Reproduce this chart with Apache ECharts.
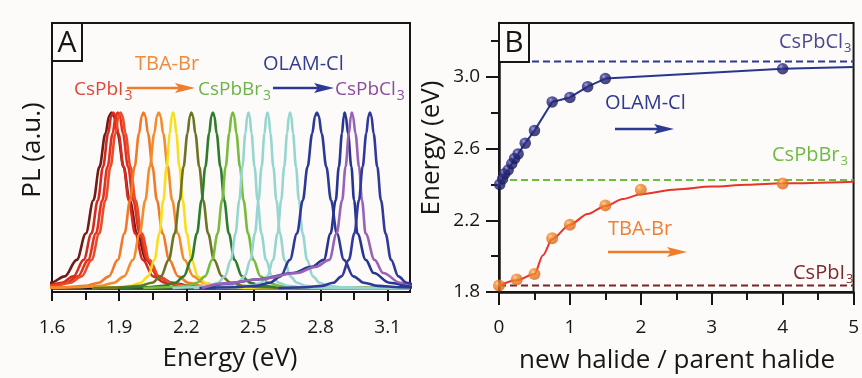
<!DOCTYPE html>
<html>
<head>
<meta charset="utf-8">
<script src="https://cdn.jsdelivr.net/npm/echarts@6/dist/echarts.min.js"></script>
<style>
  html, body { margin: 0; padding: 0; background: #fcfbf9; }
  #chart { width: 862px; height: 378px; }
</style>
</head>
<body>
<div id="chart"></div>
<script>
// ---------- Panel A: normalized PL spectra ----------
const ENERGY_MIN = 1.6;
const ENERGY_MAX = 3.2;
const ENERGY_TICKS = [1.6, 1.9, 2.2, 2.5, 2.8, 3.1];
const ENERGY_MINOR_TICKS = [1.75, 2.05, 2.35, 2.65, 2.95];

// peak energy (eV), relative width and colour of each spectrum
const PL_PEAK_EV = [1.866, 1.874, 1.894, 1.906, 2.009, 2.077, 2.141, 2.223, 2.319, 2.408,
                    2.478, 2.563, 2.664, 2.784, 2.908, 2.940, 3.021];
const PL_WIDTH   = [1.35, 1.15, 1.15, 1.12, 1.0, 1.0, 0.72, 0.88, 0.84, 0.8,
                    0.68, 0.66, 0.66, 1.05, 1.0, 1.08, 0.82];
const PL_SHAPE   = ['line', 'line', 'line', 'line', 'line', 'line', 'line', 'line', 'line', 'line',
                    'line', 'line', 'line', 'line', 'tail', 'tail', 'line'];
const PL_COLORS  = ['#6e1c14', '#d42a1f', '#e4301f', '#ee4a26', '#f07a2a', '#f28c2e', '#f8df1e',
                    '#6d7424', '#2f7c2c', '#79bb3c', '#97d6d0', '#97d6d0', '#97d6d0',
                    '#2c3a96', '#27358f', '#9a62b5', '#33399a'];

// measured line shape: offset from peak (eV) and normalized intensity
const LINE_OFFSET_EV = [-0.5, -0.35, -0.26, -0.2, -0.155, -0.115, -0.085, -0.06, -0.04, -0.02, -0.008, 0,
                        0.008, 0.02, 0.04, 0.06, 0.085, 0.115, 0.155, 0.2, 0.26, 0.35, 0.5];
const LINE_LEVEL     = [0, 0.004, 0.012, 0.03, 0.066, 0.16, 0.31, 0.5, 0.69, 0.88, 0.98, 1,
                        0.98, 0.88, 0.69, 0.5, 0.31, 0.16, 0.066, 0.03, 0.012, 0.004, 0];
// line shape with a long low-energy tail (chloride-rich samples)
const TAIL_OFFSET_EV = [-0.62, -0.53, -0.38, -0.23, -0.15, -0.093, -0.063, -0.04, -0.026, -0.012, -0.004, 0,
                        0.005, 0.015, 0.03, 0.042, 0.057, 0.094, 0.13, 0.2, 0.3, 0.45];
const TAIL_LEVEL     = [0, 0.025, 0.05, 0.085, 0.12, 0.16, 0.31, 0.5, 0.69, 0.88, 0.98, 1,
                        0.98, 0.88, 0.69, 0.5, 0.31, 0.16, 0.085, 0.03, 0.008, 0];

// ---------- Panel B: PL peak energy vs. halide ratio ----------
const TBA_RATIO = [0, 0.25, 0.5, 0.75, 1.0, 1.5, 2.0, 4.0];
const TBA_EV    = [1.836, 1.87, 1.90, 2.10, 2.175, 2.283, 2.37, 2.405];
const TBA_FIT_RATIO = [0, 0.25, 0.5, 0.62, 0.75, 1.0, 1.25, 1.5, 1.75, 2.0, 2.5, 3.0, 3.5, 4.0, 5.0];
const TBA_FIT_EV    = [1.836, 1.865, 1.90, 2.005, 2.095, 2.175, 2.235, 2.28, 2.318, 2.345, 2.372, 2.388, 2.398, 2.406, 2.415];

const OLAM_RATIO = [0.01, 0.05, 0.08, 0.13, 0.18, 0.22, 0.27, 0.37, 0.5, 0.75, 1.0, 1.25, 1.5, 4.0];
const OLAM_EV    = [2.40, 2.43, 2.46, 2.48, 2.515, 2.545, 2.57, 2.63, 2.70, 2.86, 2.885, 2.945, 2.99, 3.045];
const OLAM_LINE_RATIO = [0, 0.01, 0.05, 0.08, 0.13, 0.18, 0.22, 0.27, 0.37, 0.5, 0.75, 1.0, 1.25, 1.5, 4.0, 5.0];
const OLAM_LINE_EV    = [2.395, 2.40, 2.43, 2.46, 2.48, 2.515, 2.545, 2.57, 2.63, 2.70, 2.86, 2.885, 2.945, 2.99, 3.045, 3.055];

const EV_CSPBI3 = 1.836;
const EV_CSPBBR3 = 2.425;
const EV_CSPBCL3 = 3.086;

const RATIO_MIN = 0, RATIO_MAX = 5;
const B_EV_MIN = 1.8, B_EV_MAX = 3.3;
const B_EV_TICKS = [1.8, 2.2, 2.6, 3.0];
const B_EV_MINOR_TICKS = [2.0, 2.4, 2.8, 3.2];

// ---------- drawing ----------
const FONT = "'Open Sans', 'Noto Sans', sans-serif";
const INK = '#161616';

// spectrum i as [energy, intensity] points; red/orange spectra also run the
// baseline out to the low-energy edge, every spectrum runs it to the high-energy edge
function spectrum(i) {
  const tail = PL_SHAPE[i] === 'tail';
  const off = tail ? TAIL_OFFSET_EV : LINE_OFFSET_EV;
  const lev = tail ? TAIL_LEVEL : LINE_LEVEL;
  const pts = off.map((o, k) => [PL_PEAK_EV[i] + o * PL_WIDTH[i], lev[k]]);
  if (pts[0][0] > ENERGY_MIN && PL_PEAK_EV[i] < 2.1) pts.unshift([ENERGY_MIN, 0]);
  if (pts[pts.length - 1][0] < ENERGY_MAX) pts.push([ENERGY_MAX, 0]);
  return pts;
}
const zip = (a, b) => a.map((v, i) => [v, b[i]]);

const measure = document.createElement('canvas').getContext('2d');
function textWidth(s, size) {
  measure.font = size + 'px ' + FONT;
  return measure.measureText(s).width;
}
// chemical formula with a subscript "3"
function formula(x, yc, body, color, size, subSize) {
  const w = textWidth(body, size);
  return [
    { type: 'text', x: x, y: yc, style: { text: body, fill: color, font: size + 'px ' + FONT, verticalAlign: 'middle', align: 'left' } },
    { type: 'text', x: x + w + 1, y: yc + size * 0.32, style: { text: '3', fill: color, font: subSize + 'px ' + FONT, verticalAlign: 'middle', align: 'left' } }
  ];
}
function label(x, yc, s, color, size) {
  return { type: 'text', x: x, y: yc, style: { text: s, fill: color, font: size + 'px ' + FONT, verticalAlign: 'middle', align: 'left' } };
}
function arrow(x0, x1, y, color) {
  return [
    { type: 'line', shape: { x1: x0, y1: y, x2: x1 - 10, y2: y }, style: { stroke: color, lineWidth: 2.5 } },
    { type: 'polygon', shape: { points: [[x1 - 20, y - 5], [x1, y], [x1 - 20, y + 5], [x1 - 16, y]] }, style: { fill: color } }
  ];
}
function panelTag(x, y, w, h, s) {
  return [
    { type: 'rect', shape: { x: x, y: y, width: w, height: h }, style: { fill: '#fcfbf9', stroke: INK, lineWidth: 2 }, z: 100 },
    { type: 'text', x: x + w / 2, y: y + h / 2 + 1, z: 101, style: { text: s, fill: INK, font: '30px ' + FONT, align: 'center', verticalAlign: 'middle' } }
  ];
}
function axisTitle(x, y, s, rotate) {
  return { type: 'text', x: x, y: y, rotation: rotate ? Math.PI / 2 : 0,
           style: { text: s, fill: INK, font: '26px ' + FONT, align: 'center', verticalAlign: 'middle' } };
}

const axisLineStyle = { lineStyle: { color: INK, width: 2.5 } };
const tickLabel = { color: INK, fontSize: 19, fontFamily: FONT };

const gridA = { left: 52, top: 23, width: 358, height: 269, show: true, borderColor: INK, borderWidth: 2, backgroundColor: 'transparent' };
const gridB = { left: 499, top: 23, width: 357, height: 269, show: true, borderColor: INK, borderWidth: 2, backgroundColor: 'transparent' };

const plSeries = PL_PEAK_EV.map((_, i) => ({
  type: 'line', xAxisIndex: 0, yAxisIndex: 0, data: spectrum(i),
  showSymbol: false, smooth: 0.35, smoothMonotone: 'x',
  lineStyle: { color: PL_COLORS[i], width: 2.6 }, silent: true
}));

const dashSeries = [[EV_CSPBCL3, '#2d3a8e'], [EV_CSPBBR3, '#6abf3a'], [EV_CSPBI3, '#7a2424']].map(([ev, c]) => ({
  type: 'line', xAxisIndex: 3, yAxisIndex: 2, data: [[RATIO_MIN, ev], [RATIO_MAX, ev]],
  showSymbol: false, lineStyle: { color: c, width: 2, type: [7, 4] }, silent: true
}));

function ball(light, mid, dark) {
  return { type: 'radial', x: 0.36, y: 0.32, r: 0.72,
           colorStops: [{ offset: 0, color: light }, { offset: 0.3, color: mid }, { offset: 1, color: dark }] };
}

const option = {
  animation: false,
  backgroundColor: '#fcfbf9',
  grid: [gridA, gridB],
  xAxis: [
    { gridIndex: 0, type: 'value', min: ENERGY_MIN, max: ENERGY_MAX,
      axisLine: axisLineStyle, splitLine: { show: false },
      axisTick: { customValues: ENERGY_TICKS, length: 13, lineStyle: { color: INK, width: 2 } },
      axisLabel: { customValues: ENERGY_TICKS, margin: 26, formatter: v => v.toFixed(1), ...tickLabel } },
    { gridIndex: 0, type: 'value', min: ENERGY_MIN, max: ENERGY_MAX, position: 'bottom',
      axisLine: { show: false }, splitLine: { show: false }, axisLabel: { show: false },
      axisTick: { customValues: ENERGY_MINOR_TICKS, length: 8, lineStyle: { color: INK, width: 2 } } },
    { gridIndex: 1, type: 'value', min: RATIO_MIN, max: RATIO_MAX, interval: 1,
      axisLine: axisLineStyle, splitLine: { show: false },
      axisTick: { length: 13, lineStyle: { color: INK, width: 2 } },
      minorTick: { show: true, splitNumber: 2, length: 8, lineStyle: { color: INK, width: 2 } },
      axisLabel: { margin: 26, ...tickLabel } },
    { gridIndex: 1, type: 'value', min: RATIO_MIN, max: RATIO_MAX, show: false }
  ],
  yAxis: [
    { gridIndex: 0, type: 'value', min: -0.023, max: 1.51,
      axisLine: { show: false }, axisTick: { show: false }, axisLabel: { show: false }, splitLine: { show: false } },
    { gridIndex: 1, type: 'value', min: B_EV_MIN, max: B_EV_MAX,
      axisLine: axisLineStyle, splitLine: { show: false },
      axisTick: { customValues: B_EV_TICKS, length: 13, lineStyle: { color: INK, width: 2 } },
      axisLabel: { customValues: B_EV_TICKS, margin: 19, formatter: v => v.toFixed(1), ...tickLabel } },
    { gridIndex: 1, type: 'value', min: B_EV_MIN, max: B_EV_MAX, position: 'left',
      axisLine: { show: false }, splitLine: { show: false }, axisLabel: { show: false },
      axisTick: { customValues: B_EV_MINOR_TICKS, length: 8, lineStyle: { color: INK, width: 2 } } }
  ],
  series: [
    ...plSeries,
    ...dashSeries,
    { type: 'line', xAxisIndex: 2, yAxisIndex: 1, data: zip(TBA_FIT_RATIO, TBA_FIT_EV),
      showSymbol: false, smooth: 0.3, smoothMonotone: 'x', lineStyle: { color: '#e8342a', width: 2 }, silent: true },
    { type: 'line', xAxisIndex: 2, yAxisIndex: 1, data: zip(OLAM_LINE_RATIO, OLAM_LINE_EV),
      showSymbol: false, lineStyle: { color: '#2a3590', width: 2 }, silent: true },
    { type: 'scatter', xAxisIndex: 2, yAxisIndex: 1, data: zip(TBA_RATIO, TBA_EV), symbolSize: 12, z: 5,
      itemStyle: { color: ball('#f9c490', '#f28a2a', '#d8631a') } },
    { type: 'scatter', xAxisIndex: 2, yAxisIndex: 1, data: zip(OLAM_RATIO, OLAM_EV), symbolSize: 11.5, z: 5,
      itemStyle: { color: ball('#8f8fd0', '#2e2e88', '#16164f') } }
  ],
  graphic: [
    ...panelTag(52, 23, 30, 38, 'A'),
    ...panelTag(499, 23, 30, 39, 'B'),
    // panel A annotations
    label(135, 64, 'TBA-Br', '#f08a3c', 20),
    label(263, 64, 'OLAM-Cl', '#353d8f', 20),
    ...formula(74, 90, 'CsPbI', '#e2463a', 19, 14),
    ...arrow(127, 195, 88, '#f07d2a'),
    ...formula(198, 90, 'CsPbBr', '#6db34a', 19, 14),
    ...arrow(273, 334, 88, '#2c3a96'),
    ...formula(335, 90, 'CsPbCl', '#8c4c9e', 19, 14),
    // panel B annotations
    ...formula(779, 42, 'CsPbCl', '#4b4a8c', 20, 13),
    label(605, 103, 'OLAM-Cl', '#2f3a8f', 20),
    ...arrow(615, 674, 129, '#2c3a96'),
    ...formula(772, 155, 'CsPbBr', '#6fba45', 20, 13),
    label(608, 229, 'TBA-Br', '#f07f30', 20),
    ...arrow(608, 687, 252, '#f07d2a'),
    ...formula(793, 273, 'CsPbI', '#7b2b2b', 20, 13),
    // axis titles
    axisTitle(230, 359, 'Energy (eV)', false),
    axisTitle(677, 361, 'new halide / parent halide', false),
    axisTitle(33, 150, 'PL (a.u.)', true),
    axisTitle(432, 148, 'Energy (eV)', true)
  ]
};

const chart = echarts.init(document.getElementById('chart'));
chart.setOption(option);
</script>
</body>
</html>
